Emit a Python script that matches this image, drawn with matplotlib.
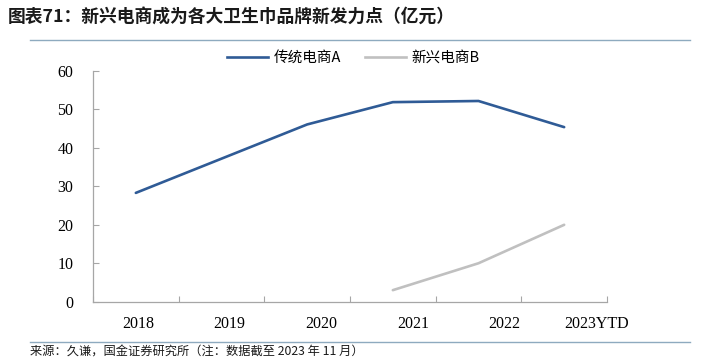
import matplotlib
matplotlib.use("Agg")
import matplotlib.pyplot as plt
from matplotlib.lines import Line2D
from matplotlib.transforms import ScaledTranslation

# data (亿元)
years = ["2018", "2019", "2020", "2021", "2022", "2023YTD"]
trad_a = [28.3, 37.2, 46.1, 51.9, 52.2, 45.4]
new_b_years = ["2021", "2022", "2023YTD"]
new_b = [3.0, 10.0, 20.0]

cjk = ["Noto Sans CJK SC", "DejaVu Sans"]
serif = ["Liberation Serif", "DejaVu Serif"]

fig = plt.figure(figsize=(7.07, 3.64), dpi=100)
ax = fig.add_axes([93 / 707, 1 - 301.7 / 364, (607 - 93) / 707, (301.7 - 71) / 364])

xa = [years.index(y) for y in years]
xb = [years.index(y) for y in new_b_years]
ax.plot(xa, trad_a, color="#2f5b96", lw=1.9, solid_capstyle="round")
ax.plot(xb, new_b, color="#c0c0c0", lw=1.9, solid_capstyle="round")

ax.set_xlim(-0.5, len(years) - 0.5)
ax.set_ylim(0, 60)
ax.set_yticks(range(0, 61, 10))

# category boundaries get the tick marks, labels sit in the middle
ax.set_xticks([i - 0.5 for i in range(len(years) + 1)])
ax.set_xticklabels([])
ax.set_xticks(range(len(years)), minor=True)
ax.set_xticklabels(years, minor=True)
ax.tick_params(axis="x", which="major", direction="in", length=4, color="#a6a6a6")
ax.tick_params(axis="x", which="minor", length=0, pad=10)
ax.tick_params(axis="y", direction="in", length=4, color="#a6a6a6", pad=14)
for lab in ax.get_xticklabels(minor=True) + ax.get_yticklabels():
    lab.set_fontfamily(serif)
    lab.set_fontsize(11.5)
    lab.set_color("#000000")

# in the original the year labels drift right, a bit more each category
for i, tick in enumerate(ax.xaxis.get_minor_ticks()):
    shift = ScaledTranslation((2 + 6 * i) / 100, 0, fig.dpi_scale_trans)
    tick.label1.set_transform(tick.label1.get_transform() + shift)

for s in ["top", "right"]:
    ax.spines[s].set_visible(False)
for s in ["left", "bottom"]:
    ax.spines[s].set_color("#a6a6a6")
    ax.spines[s].set_linewidth(0.9)

handles = [Line2D([], [], color="#2f5b96", lw=1.9),
           Line2D([], [], color="#c0c0c0", lw=1.9)]
fig.legend(handles, ["传统电商A", "新兴电商B"], loc="center", bbox_to_anchor=(0.5, 1 - 58 / 364),
           ncol=2, frameon=False, prop={"family": cjk, "size": 10.5},
           handlelength=2.8, handletextpad=0.4, columnspacing=1.6)

# header / footer
fig.text(8 / 707, 1 - 18 / 364, "图表71：新兴电商成为各大卫生巾品牌新发力点（亿元）",
         family=cjk, fontsize=12.8, fontweight="bold", color="#1a1a1a", va="center", ha="left")
fig.add_artist(Line2D([30 / 707, 690 / 707], [1 - 40 / 364, 1 - 40 / 364], color="#8eaabf", lw=1.0))
fig.add_artist(Line2D([30 / 707, 690 / 707], [1 - 342 / 364, 1 - 342 / 364], color="#8eaabf", lw=1.0))
fig.text(30 / 707, 1 - 352 / 364, "来源：久谦，国金证券研究所（注：数据截至 2023 年 11 月）",
         family=cjk, fontsize=8.8, color="#1a1a1a", va="center", ha="left")

fig.savefig("out.png", dpi=100)
